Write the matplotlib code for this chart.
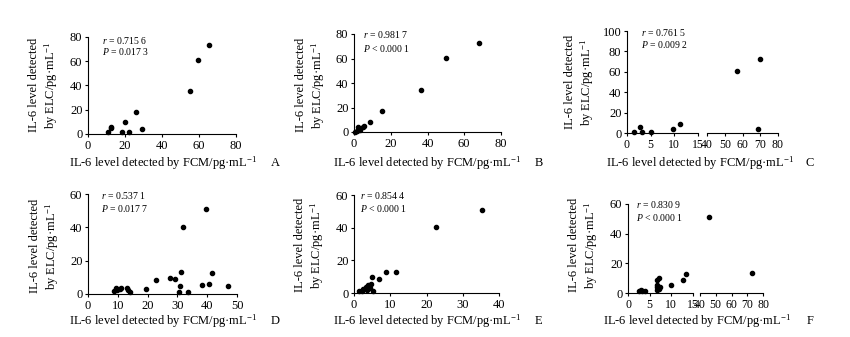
import matplotlib
matplotlib.use("Agg")
import matplotlib.pyplot as plt

plt.rcParams['font.family'] = ['Liberation Serif', 'DejaVu Serif']
plt.rcParams['mathtext.fontset'] = 'custom'
plt.rcParams['mathtext.rm'] = 'Liberation Serif'
plt.rcParams['mathtext.it'] = 'Liberation Serif:italic'

# panel A
a_x = [10.8, 12.3, 12.3, 18.2, 20.2, 22.0, 26.2, 29.4, 55.4, 59.7, 65.5]
a_y = [1.4, 4.7, 6.0, 1.4, 9.7, 1.4, 18.2, 4.4, 35.6, 61.2, 73.4]
# panel B
b_x = [0.5, 1.5, 2.4, 3.3, 4.7, 5.6, 8.7, 15.3, 36.7, 50.2, 68.0]
b_y = [0.0, 0.5, 3.8, 1.4, 4.4, 5.2, 8.4, 17.4, 34.6, 60.4, 72.7]
# panel C (broken x axis)
c_x = [1.5, 2.8, 3.1, 5.0, 9.8, 11.2, 56.7, 70.0, 69.0]
c_y = [1.0, 5.5, 1.3, 1.3, 3.9, 8.8, 61.0, 72.3, 4.2]
# panel D
d_x = [8.8, 9.5, 9.7, 10.8, 11.2, 13.2, 13.4, 14.0, 19.6, 22.8, 27.4,
       29.1, 30.5, 30.8, 31.3, 31.9, 33.6, 38.4, 39.5, 40.5, 41.5, 47.0]
d_y = [1.6, 3.8, 2.6, 3.0, 3.8, 3.6, 2.2, 1.2, 3.2, 8.7, 9.9,
       8.9, 1.2, 4.6, 13.3, 40.4, 1.4, 5.2, 51.1, 6.0, 12.7, 5.0]
# panel E
e_x = [1.5, 2.1, 2.6, 3.3, 3.7, 3.9, 4.4, 4.6, 5.1, 5.3, 6.8, 8.8, 11.6, 22.5, 35.4]
e_y = [1.4, 1.4, 2.3, 3.7, 1.6, 4.7, 3.1, 5.3, 9.8, 1.4, 8.8, 12.9, 12.7, 40.3, 50.8]
# panel F (broken x axis)
f_x = [2.6, 2.95, 3.3, 3.9, 6.6, 6.6, 6.6, 6.8, 7.1, 7.2, 7.4, 9.9, 12.7, 13.3, 46.0, 73.1]
f_y = [1.6, 2.0, 1.6, 1.6, 9.0, 2.2, 3.8, 5.1, 10.1, 2.9, 3.8, 5.1, 8.7, 12.8, 51.3, 13.2]

stats = {
    'A': ('0.715 6', '= 0.017 3'),
    'B': ('0.981 7', '< 0.000 1'),
    'C': ('0.761 5', '= 0.009 2'),
    'D': ('0.537 1', '= 0.017 7'),
    'E': ('0.854 4', '< 0.000 1'),
    'F': ('0.830 9', '< 0.000 1'),
}

W, H = 850, 337
fig = plt.figure(figsize=(8.5, 3.37), dpi=100)

xlab = 'IL-6 level detected by FCM/pg\u00b7mL$^{-1}$'
ylab = 'IL-6 level detected\nby ELC/pg\u00b7mL$^{-1}$'
FS = 9


def make_ax(x0, x1, y0, y1):
    ax = fig.add_axes([x0 / W, 1 - y1 / H, (x1 - x0) / W, (y1 - y0) / H])
    ax.spines['top'].set_visible(False)
    ax.spines['right'].set_visible(False)
    ax.tick_params(direction='out', length=2.5, width=0.8, labelsize=FS, pad=1.5)
    ax.patch.set_visible(False)
    for s in ax.spines.values():
        s.set_linewidth(0.8)
    return ax


def dots(ax, x, y):
    ax.scatter(x, y, s=9, color='black', clip_on=False, zorder=3)


def stat_text(ax, key, pos):
    tx, ty1, ty2 = pos
    r, p = stats[key]
    ax.text(tx, ty1, '$r$ = ' + r, transform=ax.transAxes, fontsize=7, va='center',
            clip_on=False)
    ax.text(tx, ty2, '$P$ ' + p, transform=ax.transAxes, fontsize=7, va='center',
            clip_on=False)


def labels(key, xl_x, xl_y, yl_x, yl_y, let_x):
    fig.text(xl_x / W, 1 - xl_y / H, xlab, ha='center', va='center', fontsize=FS)
    fig.text(yl_x / W, 1 - yl_y / H, ylab, ha='center', va='center', fontsize=FS,
             rotation=90, multialignment='center', linespacing=1.15)
    fig.text(let_x / W, 1 - xl_y / H, key, ha='center', va='center', fontsize=FS)


def simple(key, x, y, box, xmax, xstep, ymax, ystep, pos, lab):
    ax = make_ax(*box)
    dots(ax, x, y)
    ax.set_xlim(0, xmax)
    ax.set_ylim(0, ymax)
    ax.set_xticks(range(0, xmax + 1, xstep))
    ax.set_yticks(range(0, ymax + 1, ystep))
    stat_text(ax, key, pos)
    labels(key, *lab)


def broken(key, x, y, box_l, box_r, ymax, ystep, pos, lab):
    axl = make_ax(*box_l)
    axr = make_ax(*box_r)
    axr.spines['left'].set_visible(False)
    axr.tick_params(axis='y', left=False, labelleft=False)
    for a in (axl, axr):
        a.tick_params(axis='x', labelsize=8.5)
    lx = [a for a in x if a <= 15]
    ly = [b for a, b in zip(x, y) if a <= 15]
    rx = [a for a in x if a > 15]
    ry = [b for a, b in zip(x, y) if a > 15]
    dots(axl, lx, ly)
    dots(axr, rx, ry)
    axl.set_xlim(0, 15)
    axl.set_xticks([0, 5, 10, 15])
    axr.set_xlim(40, 80)
    axr.set_xticks([40, 50, 60, 70, 80])
    for a in (axl, axr):
        a.set_ylim(0, ymax)
    axl.set_yticks(range(0, ymax + 1, ystep))
    stat_text(axl, key, pos)
    labels(key, *lab)


simple('A', a_x, a_y, (88, 236, 37, 134), 80, 20, 80, 20, (0.095, 0.96, 0.85),
       (163, 163, 44, 85, 275))
simple('B', b_x, b_y, (354, 501, 34, 132), 80, 20, 80, 20, (0.06, 0.99, 0.85),
       (427, 163, 311, 85, 539))
broken('C', c_x, c_y, (627, 698, 31, 133), (707, 778, 31, 133), 100, 20, (0.2, 0.99, 0.87),
       (700, 163, 580, 82, 810))
simple('D', d_x, d_y, (88, 237, 194, 294), 50, 10, 60, 20, (0.09, 0.99, 0.86),
       (163, 321, 45, 246, 275))
simple('E', e_x, e_y, (354, 499, 195, 293), 40, 10, 60, 20, (0.04, 0.99, 0.86),
       (427, 321, 310, 245, 538))
broken('F', f_x, f_y, (628, 693, 204, 293), (700, 763, 204, 293), 60, 20, (0.12, 0.99, 0.85),
       (697, 321, 584, 245, 810))

fig.savefig('out.png', dpi=100, facecolor='white')
